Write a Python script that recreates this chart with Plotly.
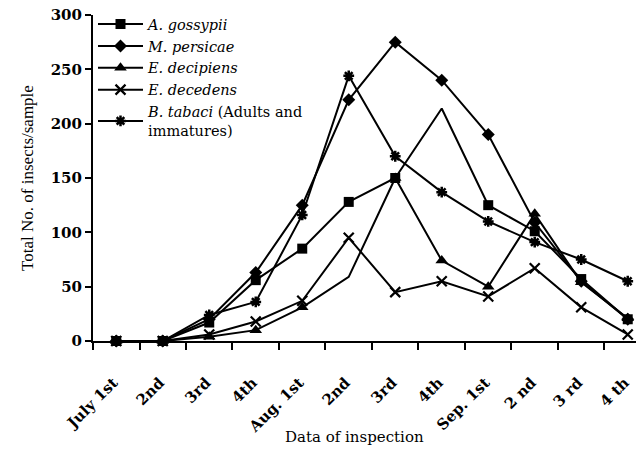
import plotly.graph_objects as go

categories = ["July 1st", "2nd", "3rd", "4th", "Aug. 1st", "2nd", "3rd", "4th",
              "Sep. 1st", "2 nd", "3 rd", "4 th"]
a_gossypii = [0, 0, 17, 56, 85, 128, 150, 214, 125, 101, 57, 20]
m_persicae = [0, 0, 20, 63, 125, 222, 275, 240, 190, 109, 55, 20]
e_decipiens = [0, 0, 4, 10, 31, 59, 150, 74, 50, 117, 54, 21]
e_decedens = [0, 0, 6, 18, 37, 95, 45, 55, 41, 67, 31, 6]
b_tabaci = [0, 0, 24, 36, 116, 244, 170, 137, 110, 91, 75, 55]
y_ticks = [0, 50, 100, 150, 200, 250, 300]

xpos = list(range(len(categories)))

SERIF = "DejaVu Serif"

def colors(vals, hide=None):
    c = ["black"] * len(vals)
    if hide is not None:
        c[hide] = "rgba(0,0,0,0)"
    return c

fig = go.Figure()
series = [
    ("<i>A. gossypii</i>", a_gossypii, dict(symbol="square", size=10, color=colors(a_gossypii, 7))),
    ("<i>M. persicae</i>", m_persicae, dict(symbol="diamond", size=10, color="black")),
    ("<i>E. decipiens</i>", e_decipiens, dict(symbol="triangle-up", size=11, color=colors(e_decipiens, 5))),
    ("<i>E. decedens</i>", e_decedens, dict(symbol="x-thin-open", size=10, color="black",
                                              line=dict(width=2.2, color="black"))),
    ("<i>B. tabaci</i> (Adults and<br>immatures)", b_tabaci,
     dict(symbol="asterisk-open", size=9, color="black", line=dict(width=2.5, color="black"))),
]
for name, vals, mk in series:
    fig.add_trace(go.Scatter(
        x=xpos, y=vals, name=name, mode="lines+markers",
        line=dict(color="black", width=2), marker=mk, cliponaxis=False,
    ))

fig.update_layout(
    width=636, height=442,
    margin=dict(l=85, r=0, t=7, b=109, autoexpand=False),
    plot_bgcolor="white", paper_bgcolor="white",
    font=dict(family=SERIF, color="black", size=15),
    showlegend=True,
    legend=dict(x=0.0, y=1.021, xanchor="left", yanchor="top",
                bgcolor="rgba(0,0,0,0)", font=dict(family=SERIF, size=14.5),
                tracegroupgap=0, itemwidth=45),
    xaxis=dict(
        range=[-0.5, 11.35], tickmode="array", tickvals=xpos, ticktext=categories,
        tickangle=-45, ticks="outside", ticklen=25, tickcolor="rgba(0,0,0,0)",
        ticklabelshift=-3,
        tickfont=dict(family=SERIF, size=15, color="black", weight="bold"),
        showline=True, linewidth=2, linecolor="black", showgrid=False, zeroline=False,
        automargin=False,
        minor=dict(tickmode="array", tickvals=[i - 0.5 for i in xpos], ticks="outside",
                   ticklen=7, tickwidth=2, tickcolor="black", showgrid=False),
    ),
    yaxis=dict(
        range=[0, 300], tickmode="array", tickvals=y_ticks,
        ticks="outside", ticklen=6, tickwidth=2, tickcolor="black",
        ticklabeloverflow="allow",
        tickfont=dict(family=SERIF, size=15, color="black", weight="bold"),
        showline=True, linewidth=2, linecolor="black", showgrid=False, zeroline=False,
        automargin=False,
    ),
    annotations=[
        dict(text="Data of inspection", xref="paper", yref="paper", x=0.475, y=-0.294,
             xanchor="center", yanchor="middle", showarrow=False,
             font=dict(family=SERIF, size=15, color="black")),
        dict(text="Total No. of insects/sample", xref="paper", yref="paper", x=-0.12, y=0.5,
             xanchor="center", yanchor="middle", textangle=-90, showarrow=False,
             font=dict(family="Liberation Serif", size=17, color="black")),
    ],
)

fig.write_html("out.html")
